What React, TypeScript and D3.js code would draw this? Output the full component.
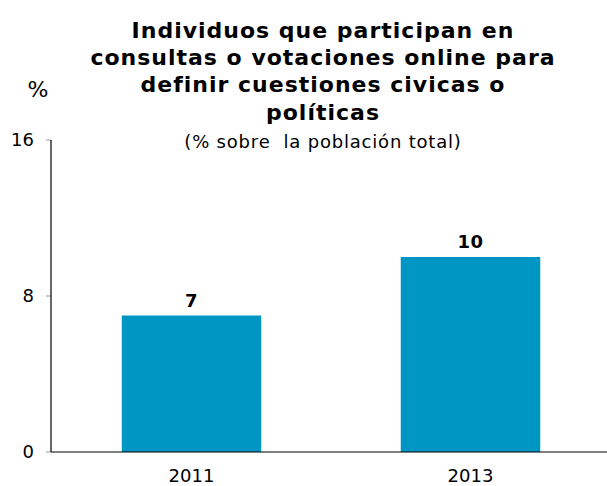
import React from "react";
import * as d3 from "d3";

const categories = ["2011", "2013"];
const values = [7, 10];
const yTicks = [0, 8, 16];
const titleLines = [
  "Individuos que participan en",
  "consultas o votaciones online para",
  "definir cuestiones civicas o",
  "políticas",
];
const subtitle = "(% sobre  la población total)";

export default function App() {
  const W = 607, H = 486;
  const y = d3.scaleLinear().domain([0, 16]).range([452, 140]);
  const x = d3.scaleBand<string>().domain(categories).range([52, 610]).paddingInner(0.5).paddingOuter(0.25);
  const font = "'DejaVu Sans', Verdana, sans-serif";
  const titleBase = [38, 65, 92, 120];
  return (
    <svg width={W} height={H} style={{ position: "absolute", left: 0, top: 0, background: "#fff" }} fontFamily={font}>
      {titleLines.map((t, i) => (
        <text key={i} x={323} y={titleBase[i]} textAnchor="middle" fontSize={22} fontWeight="bold" letterSpacing={1} fill="#000">{t}</text>
      ))}
      <text x={323} y={148} textAnchor="middle" fontSize={18} letterSpacing={0.8} fill="#000" style={{ whiteSpace: "pre" }}>{subtitle}</text>
      <text x={38} y={97} textAnchor="middle" fontSize={22} fill="#000">%</text>
      {categories.map((c, i) => (
        <g key={c}>
          <rect x={x(c)} y={y(values[i])} width={x.bandwidth()} height={y(0) - y(values[i])} fill="#0096c3" />
          <text x={(x(c) as number) + x.bandwidth() / 2} y={y(values[i]) - 9} textAnchor="middle" fontSize={18} fontWeight="bold" letterSpacing={0.5} fill="#000">{values[i]}</text>
          <text x={(x(c) as number) + x.bandwidth() / 2} y={482} textAnchor="middle" fontSize={18} fill="#000">{c}</text>
        </g>
      ))}
      {yTicks.map((t) => (
        <g key={t}>
          <line x1={46} x2={51} y1={y(t)} y2={y(t)} stroke="#999" strokeWidth={1} />
          <text x={34} y={y(t) + 6} textAnchor="end" fontSize={18} fill="#000">{t}</text>
        </g>
      ))}
      <line x1={51} x2={51} y1={y(16)} y2={y(0)} stroke="#000" strokeWidth={1.2} />
      <line x1={51} x2={607} y1={y(0)} y2={y(0)} stroke="#000" strokeWidth={1.2} />
    </svg>
  );
}
